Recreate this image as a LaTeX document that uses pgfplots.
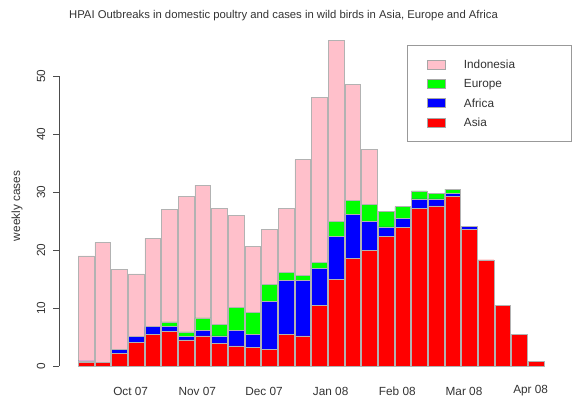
\documentclass[border=0pt]{standalone}
\usepackage{pgfplots}
\pgfplotsset{compat=1.18}
\usepackage{pgfplotstable}
\usepackage{fontspec}
\setmainfont{Liberation Sans}
\definecolor{rpink}{HTML}{FFC0CB}
\definecolor{rgreen}{HTML}{00FF00}
\definecolor{rblue}{HTML}{0000FF}
\definecolor{rred}{HTML}{FF0000}
\definecolor{txt}{HTML}{333333}

\pgfplotstableread{
i   asia africa europe indonesia
1   0.6  0.3   0.0   18.1
2   0.6  0.0   0.0   20.7
3   2.2  0.7   0.0   13.8
4   4.1  0.95  0.0   10.85
5   5.5  1.3   0.0   15.2
6   6.0  0.8   0.8   19.4
7   4.5  0.55  0.85  23.3
8   5.2  1.0   2.1   22.9
9   3.9  1.3   2.0   20.0
10  3.45 2.75  3.85  15.95
11  3.2  2.3   3.7   11.4
12  2.9  8.2   3.0   9.5
13  5.5  9.3   1.3   11.1
14  5.2  9.6   0.8   20.0
15  10.5 6.3   1.1   28.4
16  14.9 7.5   2.5   31.3
17  18.6 7.6   2.3   20.1
18  20.0 4.9   3.0   9.5
19  22.3 1.7   2.6   0
20  23.9 1.5   2.1   0
21  27.2 1.6   1.4   0
22  27.6 1.2   1.0   0
23  29.2 0.5   0.8   0
24  23.6 0.5   0.0   0
25  18.3 0.0   0.0   0
26  10.5 0.0   0.0   0
27  5.5  0.0   0.0   0
28  0.8  0.0   0.0   0
}\datatable

\begin{document}
\begin{tikzpicture}
\useasboundingbox (0pt,0pt) rectangle (572pt,400pt);
\begin{axis}[
  at={(59pt,34pt)}, anchor=south west,
  scale only axis, width=496pt, height=290pt,
  xmin=-0.62, xmax=29.14, ymin=0, ymax=50,
  clip=false,
  ybar stacked, bar width=15.8pt,
  axis x line*=bottom, axis y line*=left,
  x axis line style={draw=none},
  y axis line style={draw=black!70, line width=0.6pt},
  font=\fontsize{11.8}{14}\selectfont\color{txt},
  /pgf/number format/assume math mode=true,
  xtick={3.68,7.68,11.68,15.68,19.68,23.68,27.68},
  xticklabels={Oct 07,Nov 07,Dec 07,Jan 08,Feb 08,Mar 08,Apr 08},
  x tick style={draw=none},
  xticklabel style={anchor=center, yshift=-19pt},
  ytick={0,10,20,30,40,50},
  tick align=outside,
  y tick style={draw=black!70, line width=0.6pt},
  major tick length=6pt,
  yticklabel style={xshift=-12pt, rotate=90, anchor=center},
  ylabel={weekly cases},
  ylabel style={at={(rel axis cs:-0.0847,0.552)}, anchor=center},
  title={HPAI Outbreaks in domestic poultry and cases in wild birds in Asia, Europe and Africa},
  title style={at={(rel axis cs:0.4526,1.188)}, anchor=center, font=\fontsize{11.3}{13}\selectfont\color{txt}},
  every axis plot/.append style={draw=gray!60, line width=0.5pt},
  legend image code/.code={%
    \path[fill=none, draw=none] (0pt,-9.6pt) rectangle (18pt,9.6pt);
    \draw[#1, draw=gray!70] (0pt,-4.5pt) rectangle (18pt,4.5pt);},
  reverse legend,
  legend cell align=left,
  legend style={at={(rel axis cs:0.7016,1.108)}, anchor=north west,
    draw=gray!80, line width=0.8pt, inner xsep=20pt, inner ysep=10pt,
    column sep=0pt, row sep=0pt,
    /tikz/every odd column/.append style={column sep=16pt},
    nodes={inner sep=2pt, text width=85pt, text depth=0pt}},
]
\addplot[fill=rred] table[x=i, y=asia] {\datatable};
\addlegendentry{Asia}
\addplot[fill=rblue] table[x=i, y=africa] {\datatable};
\addlegendentry{Africa}
\addplot[fill=rgreen] table[x=i, y=europe] {\datatable};
\addlegendentry{Europe}
\addplot[fill=rpink] table[x=i, y=indonesia] {\datatable};
\addlegendentry{Indonesia}
\end{axis}
\end{tikzpicture}
\end{document}
